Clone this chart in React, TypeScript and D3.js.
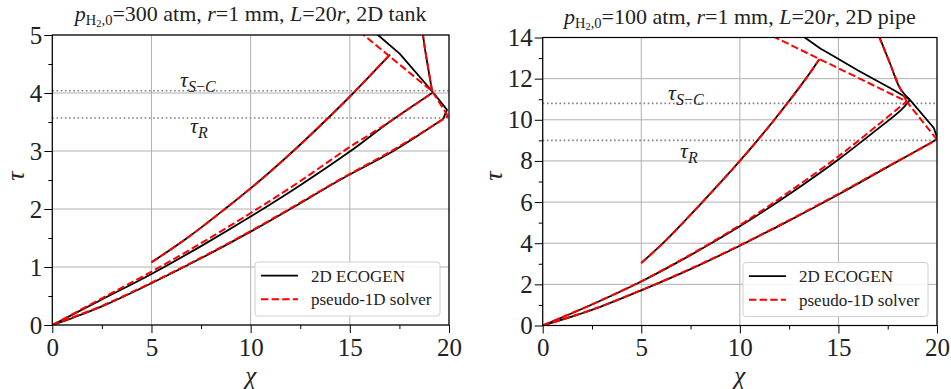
import React, { useEffect, useRef } from 'react';
import * as d3 from 'd3';

const W = 951;
const H = 389;
const FONT = '"Liberation Serif", "Times New Roman", serif';

// ---- tank case, p = 300 atm : [chi, tau]
const tankShockEcogen = [[0, 0], [1, 0.12], [2.5, 0.32], [5, 0.72], [7.5, 1.15], [10, 1.61], [12, 2.0], [14.5, 2.5], [17.2, 3.0], [19.7, 3.55]];
const tankReflEcogen = [[19.7, 3.55], [19.9, 3.71], [19.15, 4.03]];
const tankTransEcogen = [[19.15, 4.03], [17.51, 4.68], [16.42, 5.0], [16.1, 5.1]];
const tankContactEcogen = [[19.15, 4.03], [18.94, 4.45], [18.77, 4.8], [18.69, 5.0], [18.66, 5.1]];
const tankFrontEcogen = [[0, 0], [2.5, 0.44], [5, 0.88], [7.5, 1.36], [10, 1.87], [12.5, 2.41], [15, 2.99], [17, 3.5], [19.15, 4.0]];
const tankFanEcogen = [[5, 1.08], [6.8, 1.5], [8.7, 2.0], [10.5, 2.5], [12.15, 3.0], [13.7, 3.5], [15.18, 4.0], [17.03, 4.66]];

const tankShockSolver = [[0, 0], [1, 0.13], [2.5, 0.33], [5, 0.73], [7.5, 1.16], [10, 1.62], [12, 2.01], [14.5, 2.51], [17.2, 3.02], [19.95, 3.6]];
const tankReflSolver = [[19.95, 3.6], [19.15, 4.03], [15.7, 5.0], [15.4, 5.1]];
const tankContactSolver = [[19.15, 4.03], [18.94, 4.45], [18.77, 4.8], [18.69, 5.0], [18.66, 5.1]];
const tankFrontSolver = [[0, 0], [2.5, 0.46], [5, 0.92], [7.5, 1.41], [10, 1.93], [12.5, 2.48], [15, 3.07], [16.5, 3.39], [19.15, 4.0]];
const tankFanSolver = [[5, 1.08], [6.8, 1.5], [8.7, 2.0], [10.5, 2.5], [12.15, 3.0], [13.7, 3.5], [15.18, 4.0], [16.95, 4.64]];

// ---- pipe case, p = 100 atm
const pipeShockEcogen = [[0, 0], [2.5, 0.76], [5, 1.71], [7.5, 2.74], [10, 3.88], [12.5, 5.1], [15, 6.37], [17.5, 7.71], [20, 9.05]];
const pipeReflEcogen = [[20, 9.05], [19.98, 9.2], [19.84, 9.6], [18.63, 10.97]];
const pipeTransEcogen = [[18.63, 10.97], [17.78, 11.46], [16, 12.4], [14.57, 13.2], [14.1, 13.45], [13.22, 14.05], [13.1, 14.15]];
const pipeContactEcogen = [[18.63, 10.97], [18.12, 11.54], [17.61, 12.76], [17.07, 14.05], [17.03, 14.15]];
const pipeFrontEcogen = [[0, 0], [2.5, 1.02], [5, 2.14], [7.5, 3.42], [10, 4.82], [12.5, 6.38], [15, 8.07], [17, 9.56], [18.2, 10.49], [18.63, 10.97]];
const pipeFanEcogen = [[5, 3.04], [6.1, 4], [8.1, 6], [10.0, 8], [11.75, 10], [13.35, 12], [14.03, 12.94]];

const pipeShockSolver = [[0, 0], [2.5, 0.77], [5, 1.72], [7.5, 2.76], [10, 3.9], [12.5, 5.12], [15, 6.4], [17.5, 7.73], [20, 9.03]];
const pipeReflSolver = [[20, 9.03], [18.46, 10.89], [11.69, 14.05], [11.5, 14.14]];
const pipeContactSolver = [[18.46, 10.89], [18.1, 11.6], [17.6, 12.76], [17.05, 14.05], [17.0, 14.15]];
const pipeFrontSolver = [[0, 0], [2.5, 1.03], [5, 2.15], [7.5, 3.45], [10, 4.88], [12.5, 6.5], [15, 8.22], [17, 9.75], [18.46, 10.89]];
const pipeFanSolver = [[5, 3.04], [6.1, 4], [8.1, 6], [10.0, 8], [11.75, 10], [13.35, 12], [14.03, 12.94]];

const xTicks = [0, 5, 10, 15, 20];
const xMinor = [2.5, 7.5, 12.5, 17.5];
const tankYTicks = [0, 1, 2, 3, 4, 5];
const tankYMinor = [0.5, 1.5, 2.5, 3.5, 4.5];
const pipeYTicks = [0, 2, 4, 6, 8, 10, 12, 14];
const pipeYMinor = [1, 3, 5, 7, 9, 11, 13];

const tankLevels = { sc: 4.04, r: 3.57 };
const pipeLevels = { sc: 10.8, r: 9.0 };

const legendLabels = ['2D ECOGEN', 'pseudo-1D solver'];

const panels = [
  {
    id: 'tank', x0: 52.3, x1: 449, y0: 35, y1: 325, yMax: 5,
    yTicks: tankYTicks, yMinor: tankYMinor, levels: tankLevels,
    pressure: '300', geom: '2D tank', titleY: 21, tauX: 24,
    scLabel: [180, 86.5], rLabel: [190, 133],
    ecogen: [[tankShockEcogen, 1], [tankReflEcogen, 0], [tankTransEcogen, 0], [tankContactEcogen, 1], [tankFrontEcogen, 1], [tankFanEcogen, 1]],
    solver: [[tankShockSolver, 1], [tankReflSolver, 0], [tankContactSolver, 1], [tankFrontSolver, 1], [tankFanSolver, 1]],
  },
  {
    id: 'pipe', x0: 542.7, x1: 937, y0: 37.5, y1: 325.5, yMax: 14,
    yTicks: pipeYTicks, yMinor: pipeYMinor, levels: pipeLevels,
    pressure: '100', geom: '2D pipe', titleY: 24, tauX: 502,
    scLabel: [668, 99.5], rLabel: [680, 157.5],
    ecogen: [[pipeShockEcogen, 1], [pipeReflEcogen, 0], [pipeTransEcogen, 0], [pipeContactEcogen, 1], [pipeFrontEcogen, 1], [pipeFanEcogen, 1]],
    solver: [[pipeShockSolver, 1], [pipeReflSolver, 0], [pipeContactSolver, 1], [pipeFrontSolver, 1], [pipeFanSolver, 1]],
  },
];

function App() {
  const svgRef = useRef(null);

  useEffect(() => {
    const svg = d3.select(svgRef.current);
    svg.selectAll('*').remove();

    panels.forEach(p => {
      const x = d3.scaleLinear().domain([0, 20]).range([p.x0, p.x1]);
      const y = d3.scaleLinear().domain([0, p.yMax]).range([p.y1, p.y0]);
      const g = svg.append('g');

      // clip for the curves
      svg.append('defs').append('clipPath').attr('id', 'clip-' + p.id)
        .append('rect').attr('x', p.x0).attr('y', p.y0)
        .attr('width', p.x1 - p.x0).attr('height', p.y1 - p.y0);

      // grid
      xTicks.forEach(t => {
        g.append('line').attr('x1', x(t)).attr('x2', x(t)).attr('y1', p.y0).attr('y2', p.y1)
          .attr('stroke', '#b0b0b0').attr('stroke-width', 1);
      });
      p.yTicks.forEach(t => {
        g.append('line').attr('x1', p.x0).attr('x2', p.x1).attr('y1', y(t)).attr('y2', y(t))
          .attr('stroke', '#b0b0b0').attr('stroke-width', 1);
      });

      // tau_R and tau_S-C levels
      [p.levels.sc, p.levels.r].forEach(v => {
        g.append('line').attr('x1', p.x0).attr('x2', p.x1).attr('y1', y(v)).attr('y2', y(v))
          .attr('stroke', '#808080').attr('stroke-width', 1.6).attr('stroke-dasharray', '1.6,2.6');
      });

      const sc = g.append('text').attr('x', p.scLabel[0]).attr('y', p.scLabel[1])
        .attr('font-family', FONT).style('font-size', '22px').style('font-style', 'italic').attr('fill', '#222');
      sc.append('tspan').text('τ');
      sc.append('tspan').attr('dy', 5).style('font-size', '16px').text('S');
      sc.append('tspan').style('font-size', '16px').style('font-style', 'normal').text('−');
      sc.append('tspan').style('font-size', '16px').text('C');
      const rr = g.append('text').attr('x', p.rLabel[0]).attr('y', p.rLabel[1])
        .attr('font-family', FONT).style('font-size', '22px').style('font-style', 'italic').attr('fill', '#222');
      rr.append('tspan').text('τ');
      rr.append('tspan').attr('dy', 5).style('font-size', '16px').text('R');

      // curves
      const curves = g.append('g').attr('clip-path', 'url(#clip-' + p.id + ')');
      const makeLine = smooth => d3.line()
        .x(d => x(d[0]))
        .y(d => y(d[1]))
        .curve(smooth ? d3.curveCatmullRom.alpha(0.5) : d3.curveLinear);
      p.ecogen.forEach(([pts, smooth]) => {
        curves.append('path').attr('d', makeLine(smooth)(pts))
          .attr('fill', 'none').attr('stroke', 'black').attr('stroke-width', 1.8)
          .attr('stroke-linejoin', 'round');
      });
      p.solver.forEach(([pts, smooth]) => {
        curves.append('path').attr('d', makeLine(smooth)(pts))
          .attr('fill', 'none').attr('stroke', '#ff0000').attr('stroke-width', 2)
          .attr('stroke-dasharray', '7.4,3.2');
      });

      // legend
      const lx = p.x1 - 9 - 185;
      const ly = p.y1 - 9 - 54;
      g.append('rect').attr('x', lx).attr('y', ly).attr('width', 185).attr('height', 54).attr('rx', 3)
        .attr('fill', 'white').attr('fill-opacity', 0.85).attr('stroke', '#d0d0d0').attr('stroke-width', 1);
      legendLabels.forEach((lab, i) => {
        const yy = ly + 13.7 + i * 23.6;
        g.append('line').attr('x1', lx + 6).attr('x2', lx + 43).attr('y1', yy).attr('y2', yy)
          .attr('stroke', i === 0 ? 'black' : '#ff0000').attr('stroke-width', i === 0 ? 1.8 : 2)
          .attr('stroke-dasharray', i === 0 ? null : '7.4,3.2');
        g.append('text').attr('x', lx + 56).attr('y', yy + 6).text(lab)
          .attr('font-family', FONT).style('font-size', '17px').attr('fill', '#222');
      });

      // frame
      g.append('rect').attr('x', p.x0).attr('y', p.y0).attr('width', p.x1 - p.x0).attr('height', p.y1 - p.y0)
        .attr('fill', 'none').attr('stroke', 'black').attr('stroke-width', 1.2);

      // axes
      const xAxis = g.append('g').attr('transform', 'translate(0,' + p.y1 + ')')
        .call(d3.axisBottom(x).tickValues(xTicks).tickSize(8).tickPadding(5).tickFormat(d3.format('d')));
      g.append('g').attr('transform', 'translate(0,' + p.y1 + ')')
        .call(d3.axisBottom(x).tickValues(xMinor).tickSize(4).tickFormat(() => ''));
      const yAxis = g.append('g').attr('transform', 'translate(' + p.x0 + ',0)')
        .call(d3.axisLeft(y).tickValues(p.yTicks).tickSize(8).tickPadding(2).tickFormat(d3.format('d')));
      g.append('g').attr('transform', 'translate(' + p.x0 + ',0)')
        .call(d3.axisLeft(y).tickValues(p.yMinor).tickSize(4).tickFormat(() => ''));
      g.selectAll('.domain').remove();
      g.selectAll('.tick line').attr('stroke', 'black').attr('stroke-width', 1);
      [xAxis, yAxis].forEach(a => {
        a.attr('font-family', FONT).attr('font-size', 25);
        a.selectAll('text').attr('fill', '#222');
      });

      // axis labels
      g.append('text').attr('x', (p.x0 + p.x1) / 2).attr('y', 384).attr('text-anchor', 'middle')
        .attr('font-family', FONT).style('font-size', '25px').style('font-style', 'italic').attr('fill', '#222')
        .text('χ');
      g.append('text').attr('transform', 'translate(' + p.tauX + ',' + 176 + ') rotate(-90)')
        .attr('text-anchor', 'middle')
        .attr('font-family', FONT).style('font-size', '26px').style('font-style', 'italic').attr('fill', '#222')
        .text('τ');

      // title
      const t = g.append('text').attr('x', (p.x0 + p.x1) / 2).attr('y', p.titleY).attr('text-anchor', 'middle')
        .attr('font-family', FONT).style('font-size', '22px').attr('fill', '#222');
      t.append('tspan').style('font-style', 'italic').text('p');
      t.append('tspan').attr('dy', 4).style('font-size', '14.5px').text('H');
      t.append('tspan').attr('dy', 2).style('font-size', '10.5px').text('2');
      t.append('tspan').attr('dy', -2).style('font-size', '14.5px').text(',0');
      t.append('tspan').attr('dy', -4).text('=' + p.pressure + ' atm, ');
      t.append('tspan').style('font-style', 'italic').text('r');
      t.append('tspan').text('=1 mm, ');
      t.append('tspan').style('font-style', 'italic').text('L');
      t.append('tspan').text('=20');
      t.append('tspan').style('font-style', 'italic').text('r');
      t.append('tspan').text(', ' + p.geom);
    });
  }, []);

  return (
    <svg ref={svgRef} width={W} height={H}
      style={{ position: 'absolute', left: 0, top: 0, display: 'block', background: 'white' }} />
  );
}

export default App;
